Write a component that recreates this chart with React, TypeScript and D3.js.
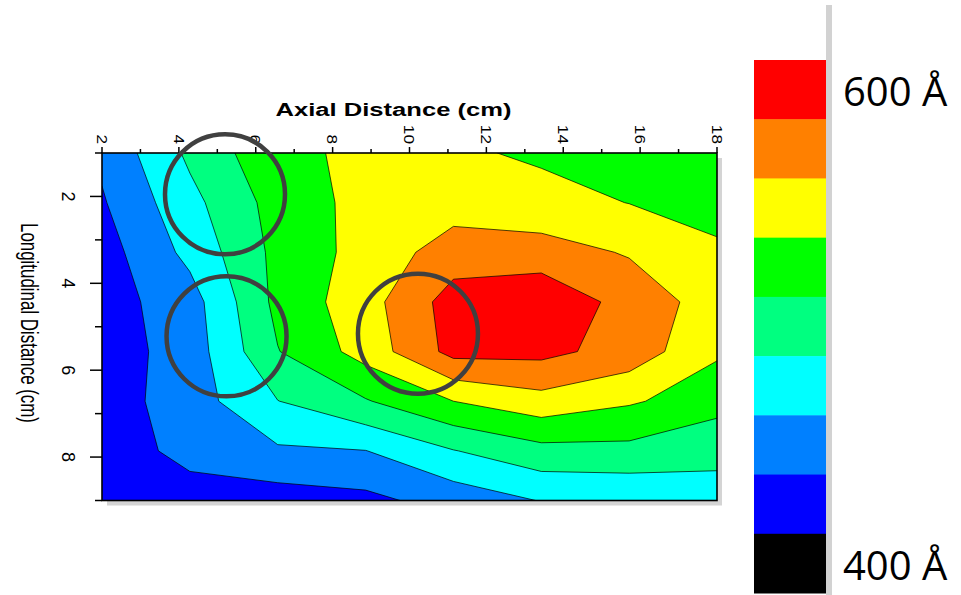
import { useEffect, useRef } from "react";
import * as d3 from "d3";

// grid nodes of the measurement (cm)
const axialNodes = [2, 4.29, 6.57, 8.86, 11.14, 13.43, 15.71, 18];
const longNodes = [1, 2.14, 3.29, 4.43, 5.57, 6.71, 7.86, 9];

// thickness (Å), one row per longitudinal node
const row1 = [455, 505, 544, 555, 554, 546, 540, 535];
const row2 = [447.5, 492.6, 535, 558, 564, 559, 549.5, 534.5];
const row3 = [439, 482, 532, 559, 587, 585, 573, 557];
const row4 = [439, 464, 532, 565, 611, 621, 590, 564];
const row5 = [437, 461.5, 524, 560, 608, 607, 590, 553];
const row6 = [437.5, 463, 499.5, 523, 550, 566, 553, 537];
const row7 = [428.5, 462, 471.5, 474.5, 499, 517, 518, 502];
const row8 = [428, 433, 438, 443.5, 460, 476, 478, 497];
const thicknessRows = [row1, row2, row3, row4, row5, row6, row7, row8];

const levels = [425, 450, 475, 500, 525, 550, 575, 600];
const levelColors = ["#0000ff", "#0080ff", "#00ffff", "#00ff80", "#00ff00", "#ffff00", "#ff8000", "#ff0000"];

const legendColors = ["#ff0000", "#ff8000", "#ffff00", "#00ff00", "#00ff80", "#00ffff", "#0080ff", "#0000ff", "#000000"];
const legendLabels = [
  { index: 0, text: "600 Å" },
  { index: 8, text: "400 Å" },
];

const axialMajor = [2, 4, 6, 8, 10, 12, 14, 16, 18];
const axialMinor = [3, 5, 7, 9, 11, 13, 15, 17];
const longMajor = [2, 4, 6, 8];
const longMinor = [1, 3, 5, 7, 9];

// highlighted spots (cm)
const marks = [
  { axial: 5.2, long: 1.95 },
  { axial: 5.24, long: 5.22 },
  { axial: 10.22, long: 5.16 },
];

const W = 961;
const H = 595;
const AXIS_FONT = "'Liberation Sans', Arial, sans-serif";

export default function App() {
  const svgRef = useRef<SVGSVGElement | null>(null);

  useEffect(() => {
    if (!svgRef.current) return;
    const svg = d3.select(svgRef.current);
    svg.selectAll("*").remove();

    const x = d3.scaleLinear().domain([2, 18]).range([102, 717]);
    const y = d3.scaleLinear().domain([1, 9]).range([153, 500.5]);
    const [x0, x1] = x.range();
    const [y0, y1] = y.range();

    // grid index -> cm (d3.contours puts sample i at i + 0.5)
    const gx = d3.scaleLinear().domain([0.5, axialNodes.length - 0.5]).range([axialNodes[0], axialNodes[axialNodes.length - 1]]);
    const gy = d3.scaleLinear().domain([0.5, longNodes.length - 0.5]).range([longNodes[0], longNodes[longNodes.length - 1]]);

    const proj = d3.geoTransform({
      point(px: number, py: number) {
        this.stream.point(x(gx(px)), y(gy(py)));
      },
    });
    const path = d3.geoPath(proj as any);

    const contours = d3
      .contours()
      .size([axialNodes.length, longNodes.length])
      .thresholds(levels)(thicknessRows.flat());

    svg.append("defs")
      .append("clipPath")
      .attr("id", "plot-clip")
      .append("rect")
      .attr("x", x0)
      .attr("y", y0)
      .attr("width", x1 - x0)
      .attr("height", y1 - y0);

    // drop shadow of the plot frame
    svg.append("rect")
      .attr("x", x0 + 5)
      .attr("y", y0 + 5)
      .attr("width", x1 - x0)
      .attr("height", y1 - y0)
      .attr("fill", "#d4d4d4");

    svg.append("rect")
      .attr("x", x0)
      .attr("y", y0)
      .attr("width", x1 - x0)
      .attr("height", y1 - y0)
      .attr("fill", levelColors[0]);

    svg.append("g")
      .attr("clip-path", "url(#plot-clip)")
      .selectAll("path")
      .data(contours)
      .enter()
      .append("path")
      .attr("d", (d) => path(d as any) || "")
      .attr("fill", (d, i) => levelColors[i])
      .attr("stroke", "#000")
      .attr("stroke-width", 0.7)
      .attr("stroke-linejoin", "round");

    svg.append("rect")
      .attr("x", x0)
      .attr("y", y0)
      .attr("width", x1 - x0)
      .attr("height", y1 - y0)
      .attr("fill", "none")
      .attr("stroke", "#000")
      .attr("stroke-width", 1.6);

    // top axis
    const top = svg.append("g");
    top.selectAll("line.major")
      .data(axialMajor)
      .enter()
      .append("line")
      .attr("x1", (d) => x(d))
      .attr("x2", (d) => x(d))
      .attr("y1", y0)
      .attr("y2", y0 - 6)
      .attr("stroke", "#000")
      .attr("stroke-width", 1.5);
    top.selectAll("line.minor")
      .data(axialMinor)
      .enter()
      .append("line")
      .attr("x1", (d) => x(d))
      .attr("x2", (d) => x(d))
      .attr("y1", y0)
      .attr("y2", y0 - 4)
      .attr("stroke", "#000")
      .attr("stroke-width", 1.5);
    top.selectAll("text")
      .data(axialMajor)
      .enter()
      .append("text")
      .attr("transform", (d) => `translate(${x(d)},${y0 - 9}) rotate(90) scale(1.15,1)`)
      .attr("text-anchor", "end")
      .attr("dy", "0.35em")
      .attr("font-family", AXIS_FONT)
      .attr("font-size", 15)
      .text((d) => d);

    // left axis
    const left = svg.append("g");
    left.selectAll("line.major")
      .data(longMajor)
      .enter()
      .append("line")
      .attr("x1", x0)
      .attr("x2", x0 - 12)
      .attr("y1", (d) => y(d))
      .attr("y2", (d) => y(d))
      .attr("stroke", "#000")
      .attr("stroke-width", 1.5);
    left.selectAll("line.minor")
      .data(longMinor)
      .enter()
      .append("line")
      .attr("x1", x0)
      .attr("x2", x0 - 7)
      .attr("y1", (d) => y(d))
      .attr("y2", (d) => y(d))
      .attr("stroke", "#000")
      .attr("stroke-width", 1.5);
    left.selectAll("text")
      .data(longMajor)
      .enter()
      .append("text")
      .attr("transform", (d) => `translate(68.5,${y(d)}) rotate(90)`)
      .attr("text-anchor", "middle")
      .attr("dy", "0.35em")
      .attr("font-family", AXIS_FONT)
      .attr("font-size", 18)
      .text((d) => d);

    // axis titles
    svg.append("text")
      .attr("x", (x0 + x1) / 2 - 16)
      .attr("y", 116)
      .attr("text-anchor", "middle")
      .attr("font-family", AXIS_FONT)
      .attr("font-weight", "bold")
      .attr("font-size", 18)
      .attr("textLength", 236)
      .attr("lengthAdjust", "spacingAndGlyphs")
      .text("Axial Distance (cm)");

    svg.append("text")
      .attr("transform", `translate(21,323) rotate(90)`)
      .attr("text-anchor", "middle")
      .attr("font-family", "'Liberation Sans Narrow', 'Arial Narrow', " + AXIS_FONT)
      .attr("font-size", 23)
      .attr("textLength", 200)
      .attr("lengthAdjust", "spacingAndGlyphs")
      .text("Longitudinal Distance (cm)");

    // highlighted spots
    svg.append("g")
      .selectAll("circle")
      .data(marks)
      .enter()
      .append("circle")
      .attr("cx", (d) => x(d.axial))
      .attr("cy", (d) => y(d.long))
      .attr("r", 60)
      .attr("fill", "none")
      .attr("stroke", "#404040")
      .attr("stroke-width", 4.5);

    // colour key
    const band = d3.scaleBand<number>().domain(d3.range(legendColors.length)).range([60, 593]);
    const key = svg.append("g");
    key.selectAll("rect")
      .data(legendColors)
      .enter()
      .append("rect")
      .attr("x", 754)
      .attr("y", (d, i) => band(i)!)
      .attr("width", 72)
      .attr("height", band.bandwidth() + 0.5)
      .attr("fill", (d) => d);
    key.append("rect")
      .attr("x", 826)
      .attr("y", 5)
      .attr("width", 6)
      .attr("height", 590)
      .attr("fill", "#d2d2d2");
    key.selectAll("text")
      .data(legendLabels)
      .enter()
      .append("text")
      .attr("x", 843)
      .attr("y", (d) => band(d.index)! + band.bandwidth() * 0.78)
      .attr("font-family", "'Open Sans', 'Noto Sans', sans-serif")
      .attr("font-size", 40)
      .attr("fill", "#000")
      .text((d) => d.text);
  }, []);

  return (
    <svg
      ref={svgRef}
      width={W}
      height={H}
      style={{ position: "absolute", left: 0, top: 0, background: "#fff" }}
    />
  );
}
